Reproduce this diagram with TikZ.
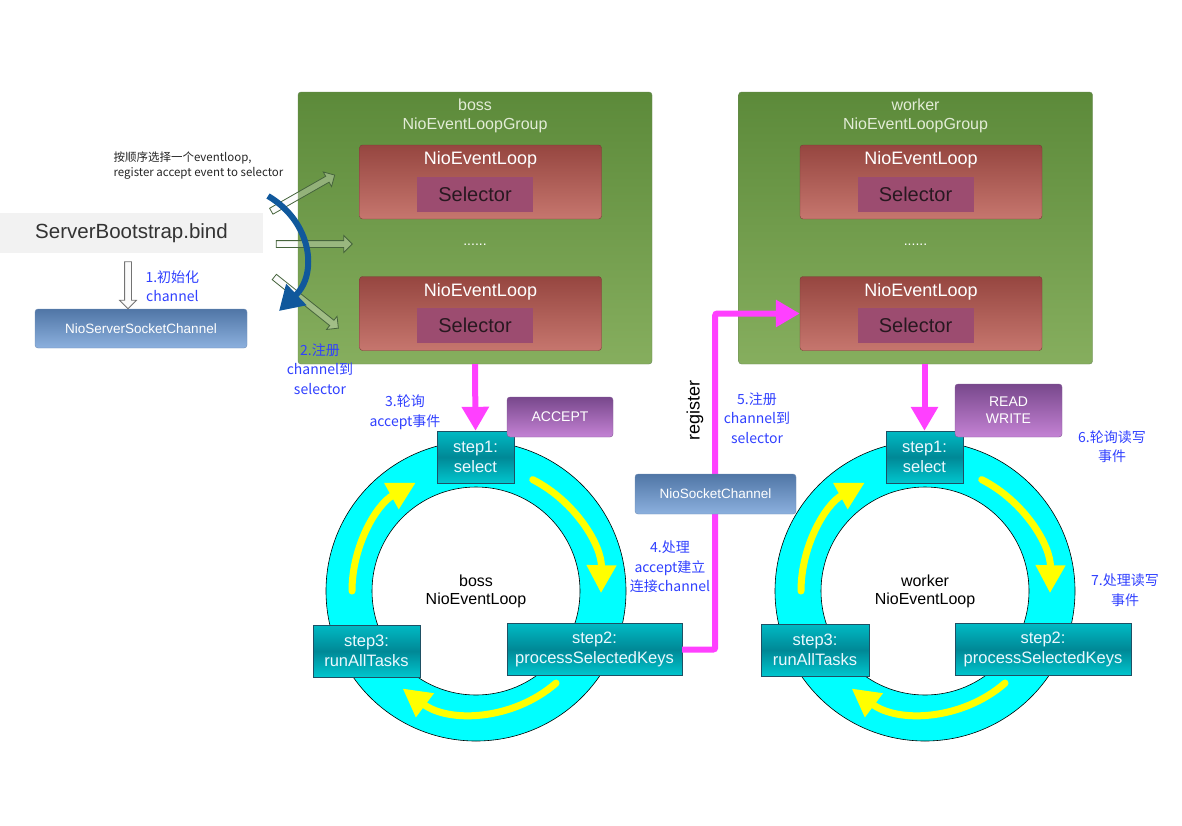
\documentclass[tikz,border=0pt]{standalone}
\usepackage{fontspec}
\setmainfont{Liberation Sans}
\newfontfamily\cjk{Noto Sans CJK SC}
\usetikzlibrary{arrows.meta,shapes.arrows}

\definecolor{grptop}{RGB}{92,138,58}
\definecolor{grpbot}{RGB}{134,174,94}
\definecolor{grpline}{RGB}{105,135,85}
\definecolor{grptext}{RGB}{226,236,214}
\definecolor{looptop}{RGB}{150,70,64}
\definecolor{loopbot}{RGB}{198,118,110}
\definecolor{loopline}{RGB}{120,60,55}
\definecolor{selfill}{RGB}{156,76,112}
\definecolor{seltext}{RGB}{40,24,32}
\definecolor{steptop}{RGB}{0,186,196}
\definecolor{stepmid}{RGB}{0,136,150}
\definecolor{stepbot}{RGB}{0,198,206}
\definecolor{stepline}{RGB}{30,80,100}
\definecolor{evtop}{RGB}{120,72,140}
\definecolor{evbot}{RGB}{196,130,212}
\definecolor{evline}{RGB}{130,90,150}
\definecolor{chtop}{RGB}{80,118,166}
\definecolor{chbot}{RGB}{140,176,222}
\definecolor{chline}{RGB}{110,140,180}
\definecolor{pinkline}{RGB}{255,64,255}
\definecolor{labelblue}{RGB}{48,64,255}
\definecolor{curveblue}{RGB}{16,88,156}
\definecolor{harrowline}{RGB}{70,100,60}
\definecolor{ringfill}{RGB}{0,255,255}
\definecolor{yarrowfill}{RGB}{255,255,0}

\tikzset{
  grp/.style={draw=grpline, rounded corners=3pt, top color=grptop, bottom color=grpbot,
    inner sep=0pt, minimum width=354pt, minimum height=272pt},
  grptext/.style={text=grptext, font=\fontsize{16}{19}\selectfont, align=center},
  loopbox/.style={draw=loopline, rounded corners=3pt, top color=looptop, bottom color=loopbot,
    inner sep=0pt, minimum width=242pt, minimum height=74pt},
  looptext/.style={text=white, font=\fontsize{18}{20}\selectfont},
  selbox/.style={fill=selfill, inner sep=0pt, minimum width=116pt, minimum height=35pt,
    text=seltext, font=\fontsize{20}{22}\selectfont},
  stepbox/.style={draw=stepline, top color=steptop, bottom color=stepbot, middle color=stepmid,
    align=center, text=white!92!cyan, font=\fontsize{16.5}{20}\selectfont,
    inner sep=0pt, minimum height=52pt},
  evbox/.style={draw=evline, rounded corners=3pt, top color=evtop, bottom color=evbot,
    text=white, align=center, font=\fontsize{14}{17}\selectfont, inner sep=0pt},
  chbox/.style={draw=chline, rounded corners=3pt, top color=chtop, bottom color=chbot,
    text=white, font=\fontsize{13.5}{15}\selectfont, inner sep=0pt, minimum height=40pt},
  note/.style={text=labelblue, font=\cjk\fontsize{14}{19.5}\selectfont, align=center},
  harrow/.style={shape=single arrow, draw=harrowline, fill=white!90!gray, fill opacity=0.3,
    inner sep=3pt, single arrow head extend=5pt, line width=0.8pt},
  pinkarrow/.style={draw=pinkline, line width=6pt, rounded corners=2pt,
    -{Triangle[length=24pt,width=26pt]}},
  yarrow/.style={draw=yarrowfill, line width=7pt, line cap=round,
    -{Triangle[length=28pt,width=28pt]}},
  ring/.style={fill=ringfill, draw=black, line width=0.6pt, even odd rule},
}

\begin{document}
\begin{tikzpicture}[x=1pt,y=1pt]
  \useasboundingbox (0,0) rectangle (1182,-825);

  % groups
  \node[grp] (bossgrp) at (475,-228) {};
  \node[grp] (workergrp) at (915.5,-228) {};
  \node[grptext] (bossname) at (475,-116) {boss\\NioEventLoopGroup};
  \node[grptext] (workername) at (915.5,-116) {worker\\NioEventLoopGroup};

  \node[loopbox] (bel1) at (480.5,-182) {};
  \node[loopbox] (bel2) at (480.5,-313.5) {};
  \node[loopbox] (wel1) at (921,-182) {};
  \node[loopbox] (wel2) at (921,-313.5) {};
  \node[looptext] (bel1t) at (480.5,-160) {NioEventLoop};
  \node[looptext] (bel2t) at (480.5,-292) {NioEventLoop};
  \node[looptext] (wel1t) at (921,-160) {NioEventLoop};
  \node[looptext] (wel2t) at (921,-292) {NioEventLoop};
  \node[selbox] (bsel1) at (475,-194.5) {Selector};
  \node[selbox] (bsel2) at (475,-325.5) {Selector};
  \node[selbox] (wsel1) at (915.5,-194.5) {Selector};
  \node[selbox] (wsel2) at (915.5,-325.5) {Selector};
  \node[text=white, font=\fontsize{14}{16}\selectfont] (bdots) at (475,-245) {......};
  \node[text=white, font=\fontsize{14}{16}\selectfont] (wdots) at (915.5,-245) {......};

  % bootstrap side
  \node[fill=black!5, inner sep=0pt, minimum width=263pt, minimum height=40pt,
    font=\fontsize{20.5}{22}\selectfont, text=black!80] (bind) at (131.5,-233) {ServerBootstrap.bind};
  \node[chbox, minimum width=212pt, minimum height=39pt] (nssc) at (141,-328.5) {NioServerSocketChannel};
  \node[harrow, draw=black!55, minimum height=47pt, rotate=-90] (hdown) at (128,-283.5) {};
  \node[note, anchor=west] (init) at (142,-286) {1.初始化\\channel};

  \node[harrow, minimum height=73pt, rotate=29.7] (ha1) at (301.5,-194) {};
  \node[harrow, minimum height=76pt] (ha2) at (312.5,-244) {};
  \node[harrow, minimum height=82pt, rotate=-38.6] (ha3) at (305,-301.5) {};

  \coordinate (cv1) at (268,-196);
  \coordinate (cv2) at (279,-311);
  \draw[draw=curveblue, line width=6pt, -{Triangle[length=24pt,width=28pt]}]
    (cv1) .. controls (312,-222) and (318,-274) .. (cv2);

  \node[anchor=west, align=left, text=black!85, font=\cjk\fontsize{11.5}{15}\selectfont] (hint)
    at (110,-166) {按顺序选择一个eventloop,\\register accept event to selector};
  \node[note] (n2) at (320,-369) {2.注册\\channel到\\selector};

  % rings
  \coordinate (bossc) at (476,-591);
  \coordinate (workc) at (925,-591);
  \path[ring] (bossc) circle[radius=150pt] (bossc) circle[radius=104pt];
  \path[ring] (workc) circle[radius=150pt] (workc) circle[radius=104pt];

  \draw[yarrow] ([shift={(63:125pt)}]bossc) arc[start angle=63, end angle=-1, radius=125pt];
  \draw[yarrow] ([shift={(-49:122pt)}]bossc) arc[start angle=-49, end angle=-127, radius=122pt];
  \draw[yarrow] ([shift={(180:124pt)}]bossc) arc[start angle=180, end angle=119, radius=124pt];
  \draw[yarrow] ([shift={(63:125pt)}]workc) arc[start angle=63, end angle=-1, radius=125pt];
  \draw[yarrow] ([shift={(-49:122pt)}]workc) arc[start angle=-49, end angle=-127, radius=122pt];
  \draw[yarrow] ([shift={(180:124pt)}]workc) arc[start angle=180, end angle=119, radius=124pt];

  \node[align=center, font=\fontsize{16}{18}\selectfont] (bossloop) at (bossc) {boss\\NioEventLoop};
  \node[align=center, font=\fontsize{16}{18}\selectfont] (workloop) at (workc) {worker\\NioEventLoop};

  \node[stepbox, minimum width=77pt] (bs1) at (475.5,-457) {step1:\\select};
  \node[stepbox, minimum width=175pt] (bs2) at (594.5,-649.5) {step2:\\processSelectedKeys};
  \node[stepbox, minimum width=107pt] (bs3) at (366.5,-651) {step3:\\runAllTasks};
  \node[stepbox, minimum width=77pt] (ws1) at (924.5,-457) {step1:\\select};
  \node[stepbox, minimum width=176pt] (ws2) at (1043,-649.5) {step2:\\processSelectedKeys};
  \node[stepbox, minimum width=108pt] (ws3) at (815,-650) {step3:\\runAllTasks};

  \node[evbox, minimum width=106pt, minimum height=40pt] (accept) at (560,-417) {ACCEPT};
  \node[evbox, minimum width=107pt, minimum height=53pt] (rw) at (1008.5,-410.5) {READ\\WRITE};

  % pink flow
  \draw[pinkarrow] (bossgrp.south) -- (bs1.north);
  \draw[pinkarrow] (ws1.north |- workergrp.south) -- (ws1.north);
  \draw[pinkarrow] (bs2.east) -- ++(33pt,0) |- (wel2.west);
  \node[chbox, minimum width=161pt] (nsc) at (715.5,-494) {NioSocketChannel};
  \node[rotate=90, font=\fontsize{18}{20}\selectfont] (reg) at (695,-410) {register};

  \node[note] (n3) at (405,-412) {3.轮询\\accept事件};
  \node[note] (n4) at (670,-567) {4.处理\\accept建立\\连接channel};
  \node[note] (n5) at (757,-418) {5.注册\\channel到\\selector};
  \node[note] (n6) at (1112,-446.5) {6.轮询读写\\事件};
  \node[note] (n7) at (1125,-590) {7.处理读写\\事件};
\end{tikzpicture}
\end{document}
